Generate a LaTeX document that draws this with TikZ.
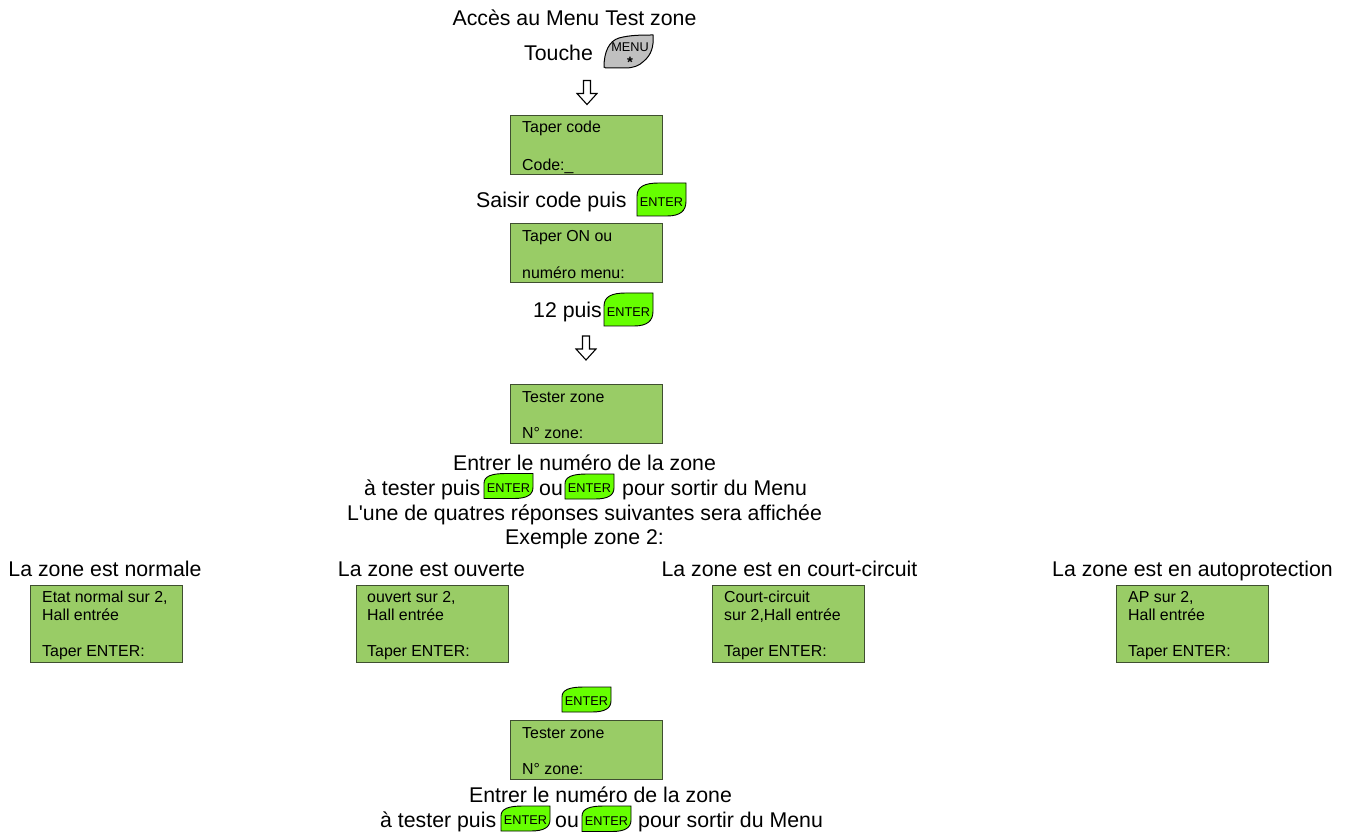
\documentclass[tikz,border=0pt]{standalone}
\usepackage{fontspec}
\setmainfont[Ligatures=TeXOff]{Liberation Sans}
\definecolor{lcdfill}{HTML}{99CC66}
\definecolor{lcdline}{HTML}{3F4F30}
\definecolor{keygreen}{HTML}{66FF00}
\definecolor{keygrey}{HTML}{C0C0C0}
\tikzset{
  x=1pt,y=-1pt,
  big/.style={anchor=base,inner sep=0pt,font=\fontsize{21.3}{24}\selectfont,text=black},
  bigw/.style={anchor=base west,inner sep=0pt,font=\fontsize{21.3}{24}\selectfont,text=black},
  lcdtext/.style={anchor=base west,inner sep=0pt,font=\fontsize{15.9}{18}\selectfont,text=black},
  lcdbox/.style={draw=lcdline,line width=1pt,fill=lcdfill},
  keyline/.style={draw=black,line width=0.9pt,fill=keygreen},
  keytext/.style={inner sep=0pt,font=\fontsize{12.7}{14}\selectfont,text=black},
  hollow/.style={draw=black,line width=1.1pt,fill=white,line join=miter},
}
\newcommand{\lcd}[5]{% name, left, top, width, height
  \draw[lcdbox] (#2,#3) rectangle ++(#4,#5) coordinate (#1);}
\newcommand{\enterkey}[4]{% name, left, top, height
  \draw[keyline] (#2,#3+0.7*#4) -- (#2,#3+0.4*#4)
    .. controls (#2,#3+0.1*#4) and (#2+8,#3) .. (#2+22,#3)
    -- (#2+49,#3) -- (#2+49,#3+0.55*#4)
    .. controls (#2+49,#3+0.85*#4) and (#2+43,#3+#4) .. (#2+30,#3+#4)
    -- (#2,#3+#4) -- cycle;
  \node[keytext] (#1) at (#2+24.5,#3+0.58*#4) {ENTER};}
\newcommand{\hollowdown}[3]{% name, centre x, top y
  \draw[hollow] (#2-3.5,#3) -- (#2+3.5,#3) -- (#2+3.5,#3+13) -- (#2+10,#3+13)
    -- (#2,#3+24) -- (#2-10,#3+13) -- (#2-3.5,#3+13) -- cycle;
  \coordinate (#1) at (#2,#3);}
\begin{document}
\begin{tikzpicture}
\useasboundingbox (0,0) rectangle (1347,834);
% top
\node[big] (title) at (574.5,25.5) {Accès au Menu Test zone};
\node[bigw] (touche) at (524,60.5) {Touche};
\draw[keyline,fill=keygrey,line width=1pt] (604,67)
  .. controls (604,52) and (609,41) .. (619,38)
  .. controls (630,35) and (642,35) .. (653,35)
  .. controls (654,47) and (651,55) .. (644,61)
  .. controls (639,66) and (633,68) .. (625,68)
  -- (610,68) .. controls (606,68) and (604,68) .. (604,67) -- cycle;
\node[keytext] (menukey) at (630,47.5) {MENU};
\node[keytext,font=\fontsize{15}{15}\selectfont\bfseries] (star) at (630,62) {*};
\hollowdown{a1}{587}{80.5}
% code
\lcd{l1}{510}{116}{152}{59}
\node[lcdtext] (l1a) at (522,133) {Taper code};
\node[lcdtext] (l1b) at (522,170.5) {Code:\_};
\node[bigw] (saisir) at (476,208) {Saisir code puis};
\enterkey{k1}{637}{183}{33}
% menu
\lcd{l2}{510}{224}{152}{59}
\node[lcdtext] (l2a) at (522,242) {Taper ON ou};
\node[lcdtext] (l2b) at (522,278.5) {numéro menu:};
\node[bigw] (douze) at (533,318) {12 puis};
\enterkey{k2}{604}{293}{33}
\hollowdown{a2}{586}{336}
% test
\lcd{l3}{510}{384}{152}{59}
\node[lcdtext] (l3a) at (522,402) {Tester zone};
\node[lcdtext] (l3b) at (522,438) {N° zone:};
\node[big] (e1) at (584.5,470) {Entrer le numéro de la zone};
\node[bigw] (e2) at (364,495) {à tester puis};
\enterkey{k3}{484}{473.5}{25}
\node[bigw] (e3) at (539,495) {ou};
\enterkey{k4}{565}{474}{25}
\node[bigw] (e4) at (622,495) {pour sortir du Menu};
\node[big] (e5) at (584.5,520) {L'une de quatres réponses suivantes sera affichée};
\node[big] (e6) at (584.5,544) {Exemple zone 2:};
% four states
\node[big] (t1) at (105,576) {La zone est normale};
\node[big] (t2) at (431.5,576) {La zone est ouverte};
\node[big] (t3) at (789.5,576) {La zone est en court-circuit};
\node[big] (t4) at (1192.5,576) {La zone est en autoprotection};
\lcd{s1}{30}{585}{152}{77}
\node[lcdtext] (s1a) at (42,602) {Etat normal sur 2,};
\node[lcdtext] (s1b) at (42,620) {Hall entrée};
\node[lcdtext] (s1c) at (42,656) {Taper ENTER:};
\lcd{s2}{356}{585}{152}{77}
\node[lcdtext] (s2a) at (367,602) {ouvert sur 2,};
\node[lcdtext] (s2b) at (367,620) {Hall entrée};
\node[lcdtext] (s2c) at (367,656) {Taper ENTER:};
\lcd{s3}{712}{585}{152}{77}
\node[lcdtext] (s3a) at (724,602) {Court-circuit};
\node[lcdtext] (s3b) at (724,620) {sur 2,Hall entrée};
\node[lcdtext] (s3c) at (724,656) {Taper ENTER:};
\lcd{s4}{1116}{585}{152}{77}
\node[lcdtext] (s4a) at (1128,602) {AP sur 2,};
\node[lcdtext] (s4b) at (1128,620) {Hall entrée};
\node[lcdtext] (s4c) at (1128,656) {Taper ENTER:};
% bottom
\enterkey{k5}{562}{687}{25}
\lcd{l4}{510}{720}{152}{59}
\node[lcdtext] (l4a) at (522,738) {Tester zone};
\node[lcdtext] (l4b) at (522,774) {N° zone:};
\node[big] (b1) at (600.5,802.5) {Entrer le numéro de la zone};
\node[bigw] (b2) at (380,827) {à tester puis};
\enterkey{k6}{501}{806}{25}
\node[bigw] (b3) at (555,827) {ou};
\enterkey{k7}{582}{806}{25.5}
\node[bigw] (b4) at (638,827) {pour sortir du Menu};
\end{tikzpicture}
\end{document}
